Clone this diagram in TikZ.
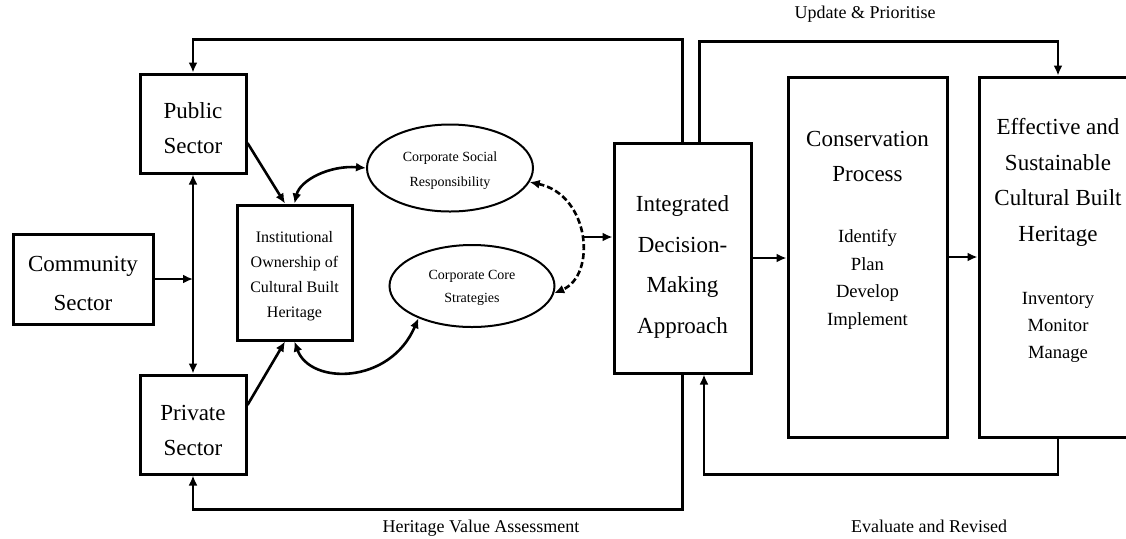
\documentclass[tikz,border=0pt]{standalone}
\usepackage{fontspec}
\setmainfont{Liberation Serif}
\usetikzlibrary{arrows.meta,shapes.geometric}
\tikzset{
  box/.style={draw, line width=1.5pt, inner sep=0pt},
  oval/.style={draw, ellipse, line width=1pt, inner sep=0pt},
  txt/.style={inner sep=0pt, align=center},
  link/.style={line width=1.3pt, -{Latex[length=5pt,width=4.5pt]}},
  biglink/.style={line width=1.3pt, {Latex[length=5pt,width=4.5pt]}-{Latex[length=5pt,width=4.5pt]}},
}

\begin{document}
\begin{tikzpicture}[x=0.5pt, y=-0.5pt]
			%%%%% START %%%%%
			\useasboundingbox (0,0) rectangle (1126,538);
			
			\node[box, minimum width=53pt, minimum height=49.5pt] (pub) at (193,123.5) {};
			\node[box, minimum width=53pt, minimum height=49.5pt] (priv) at (193,424.5) {};
			\node[box, minimum width=70pt, minimum height=45pt] (comm) at (83,279) {};
			\node[box, minimum width=57.5pt, minimum height=67.5pt] (inst) at (294.5,272.5) {};
			\node[oval, minimum width=83pt, minimum height=43.5pt] (csr) at (450,168) {};
			\node[oval, minimum width=82.5pt, minimum height=41pt] (core) at (472,286) {};
			\node[box, minimum width=68.5pt, minimum height=115pt] (integ) at (682.5,258) {};
			\node[box, minimum width=79.5pt, minimum height=180pt] (cons) at (867.5,257) {};
			\node[box, minimum width=79pt, minimum height=180pt] (eff) at (1058,257) {};
			
			\node[txt, font=\fontsize{11.5}{17.5}\selectfont] (pubtxt) at (193,128.5) {Public\\Sector};
			\node[txt, font=\fontsize{11.5}{17.5}\selectfont] (privtxt) at (193,430.5) {Private\\Sector};
			\node[txt, font=\fontsize{11.5}{19.5}\selectfont] (commtxt) at (83,283.5) {Community\\Sector};
			\node[txt, font=\fontsize{8}{12.4}\selectfont] (insttxt) at (294.5,276) {Institutional\\Ownership of\\Cultural Built\\Heritage};
			\node[txt, font=\fontsize{7}{12.5}\selectfont] (csrtxt) at (450,170.5) {Corporate Social\\Responsibility};
			\node[txt, font=\fontsize{7}{11.5}\selectfont] (coretxt) at (472,287.5) {Corporate Core\\Strategies};
			\node[txt, font=\fontsize{11.5}{20.3}\selectfont] (integtxt) at (682.5,267) {Integrated\\Decision-\\Making\\Approach};
			\node[txt, font=\fontsize{11.5}{17.5}\selectfont] (constitle) at (867.5,156.5) {Conservation\\Process};
			\node[txt, font=\fontsize{9.3}{13.8}\selectfont] (conslist) at (867.5,279.5) {Identify\\Plan\\Develop\\Implement};
			\node[txt, font=\fontsize{11.5}{17.8}\selectfont] (efftitle) at (1058,182.5) {Effective and\\Sustainable\\Cultural Built\\Heritage};
			\node[txt, font=\fontsize{9.3}{13.3}\selectfont] (efflist) at (1058,327.5) {Inventory\\Monitor\\Manage};
			
			\node[txt, font=\fontsize{9}{10}\selectfont] (update) at (865,14) {Update \& Prioritise};
			\node[txt, font=\fontsize{9}{10}\selectfont] (assess) at (481,528) {Heritage Value Assessment};
			\node[txt, font=\fontsize{9}{10}\selectfont] (revise) at (929,526) {Evaluate and Revised};
			
			% loops round the chart
			\draw[link] (integ.north) -- ++(0,-102) -| (pub.north);
			\draw[link] ([xshift=8.5pt]integ.north) -- ++(0,-100) -| (eff.north);
			\draw[link] (integ.south) -- ++(0,135) -| (priv.south);
			\draw[link] (eff.south) -- ++(0,36) -| ([xshift=10.75pt]integ.south);
			
			% sectors
			\draw[biglink] (pub.south) -- (priv.north);
			\draw[link, line width=1pt] (comm.east) -- (comm.east -| pub.south);
			\draw[link] ([yshift=-9.75pt]pub.east) -- ([xshift=-4.75pt]inst.north);
			\draw[link] ([yshift=9.75pt]priv.east) -- ([xshift=-4.75pt]inst.south);
			
			% corporate links
			\draw[biglink] (inst.north) .. controls (300,180) and (330,165) .. (csr.west);
			\draw[biglink] (inst.south) .. controls (310,385) and (390,385) .. (core.211);
			\coordinate (jn) at (583,237);
			\draw[biglink, dash pattern=on 3pt off 1.5pt] (csr.-10) .. controls (590,195) and (597,275) .. (core.-5);
			\draw[link] (jn) -- (jn -| integ.west);
			
			% process
			\draw[link] (integ.east) -- (integ.east -| cons.west);
			\draw[link] (cons.east) -- (eff.west);
			
			%%%%% END %%%%%
\end{tikzpicture}
\end{document}
